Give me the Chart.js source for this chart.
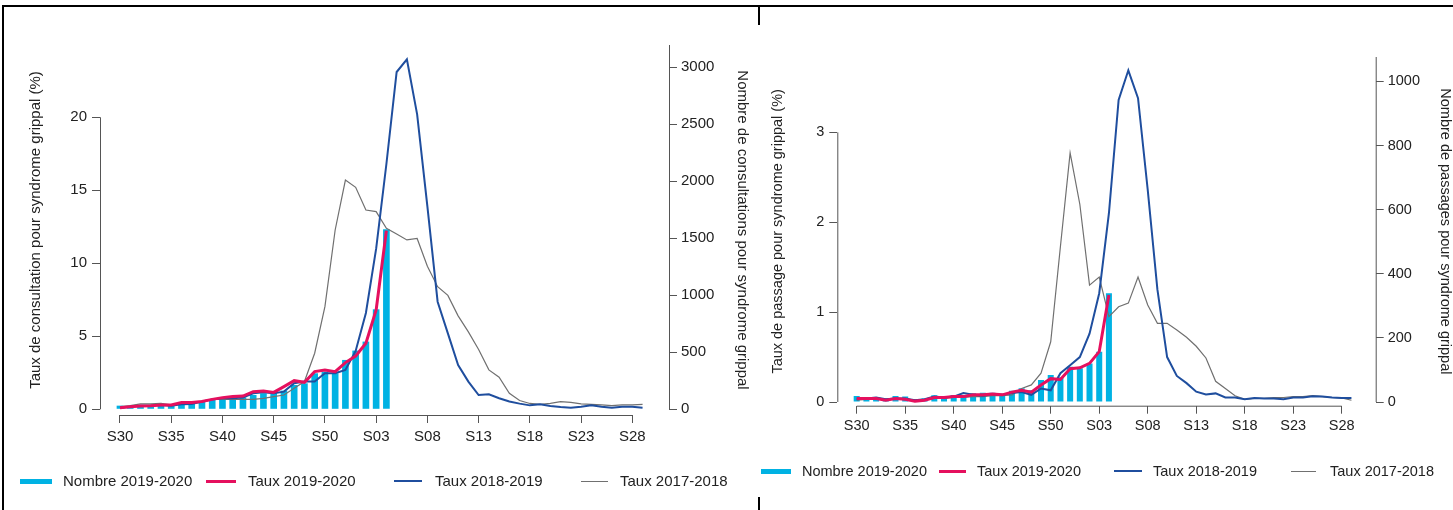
<!DOCTYPE html>
<html lang="fr">
<head>
<meta charset="utf-8">
<title>Syndrome grippal</title>
<script src="https://cdn.jsdelivr.net/npm/chart.js@4.4.1/dist/chart.umd.min.js"></script>
<style>
  html, body { margin: 0; padding: 0; background: #fff; width: 1453px; height: 510px; overflow: hidden; }
  body { position: relative; font-family: "Liberation Sans", Arial, sans-serif; color: #222; }
  .frame-top { position: absolute; left: 2px; top: 5px; width: 1451px; height: 2px; background: #000; }
  .frame-left { position: absolute; left: 2px; top: 5px; width: 2px; height: 505px; background: #000; }
  .sep { position: absolute; left: 758px; width: 2px; background: #000; }
  canvas { position: absolute; top: 0; }
  #chart-left { left: 0; }
  #chart-right { left: 760px; }
  .legend-item { position: absolute; height: 20px; white-space: nowrap; }
  .legend-item .swatch { position: absolute; left: 0; }
  .legend-item .txt { position: absolute; top: 0; line-height: 20px; }
</style>
</head>
<body>
<div class="frame-top"></div>
<div class="frame-left"></div>
<div class="sep" style="top:5px;height:20px"></div>
<div class="sep" style="top:497px;height:13px"></div>
<canvas id="chart-left" width="760" height="510"></canvas>
<canvas id="chart-right" width="700" height="510"></canvas>
<div id="legend-left"></div>
<div id="legend-right"></div>
<script>
// Semaines S30 (2019) -> S29 (2020)
const weekLabels = ['S30', 'S31', 'S32', 'S33', 'S34', 'S35', 'S36', 'S37', 'S38', 'S39', 'S40',
    'S41', 'S42', 'S43', 'S44', 'S45', 'S46', 'S47', 'S48', 'S49', 'S50', 'S51', 'S52',
    'S01', 'S02', 'S03', 'S04', 'S05', 'S06', 'S07', 'S08', 'S09', 'S10', 'S11', 'S12',
    'S13', 'S14', 'S15', 'S16', 'S17', 'S18', 'S19', 'S20', 'S21', 'S22', 'S23', 'S24',
    'S25', 'S26', 'S27', 'S28', 'S29'];
const xTickIdx = [0, 5, 10, 15, 20, 25, 30, 35, 40, 45, 50];
const seriesNames = ['Nombre 2019-2020', 'Taux 2019-2020', 'Taux 2018-2019', 'Taux 2017-2018'];

// Consultations (left panel)
const consNombre1920 = [32, 23, 32, 32, 38, 38, 44, 53, 67, 82, 96, 96, 105, 126, 140, 146, 164,
    213, 228, 316, 330, 316, 433, 515, 594, 877, 1579];
const consTaux1920 = [0.11, 0.18, 0.23, 0.25, 0.30, 0.30, 0.46, 0.46, 0.53, 0.68, 0.80, 0.87, 0.91,
    1.21, 1.26, 1.16, 1.55, 1.96, 1.85, 2.58, 2.69, 2.58, 3.20, 3.65, 4.52, 6.80, 12.24];
const consTaux1819 = [0.11, 0.18, 0.25, 0.25, 0.30, 0.25, 0.34, 0.37, 0.53, 0.68, 0.75, 0.75, 0.80,
    1.10, 1.16, 1.10, 1.21, 1.78, 1.90, 1.90, 2.47, 2.47, 2.69, 4.0, 6.6, 11.0, 16.8, 23.1, 23.97,
    20.2, 13.9, 7.37, 5.2, 3.03, 1.9, 0.98, 1.03, 0.76, 0.53, 0.39, 0.27, 0.34, 0.23, 0.16, 0.11,
    0.18, 0.27, 0.18, 0.11, 0.18, 0.18, 0.11];
const consTaux1718 = [0.18, 0.25, 0.37, 0.37, 0.41, 0.30, 0.41, 0.41, 0.53, 0.68, 0.68, 0.68, 0.68,
    0.68, 0.75, 0.87, 0.98, 1.44, 1.90, 3.84, 7.03, 12.28, 15.7, 15.2, 13.65, 13.54, 12.4, 12.0,
    11.6, 11.7, 9.8, 8.4, 7.8, 6.4, 5.3, 4.1, 2.7, 2.2, 1.1, 0.6, 0.4, 0.34, 0.41, 0.52, 0.48,
    0.37, 0.34, 0.30, 0.25, 0.30, 0.30, 0.34];
const consTauxTicks = [0, 5, 10, 15, 20];
const consNombreTicks = [0, 500, 1000, 1500, 2000, 2500, 3000];

// Passages aux urgences (right panel)
const passNombre1920 = [19, 15, 15, 11, 19, 17, 8, 11, 21, 19, 22, 22, 27, 29, 29, 25, 35, 43, 37,
    69, 84, 77, 110, 105, 120, 157, 339];
const passTaux1920 = [0.04, 0.04, 0.04, 0.02, 0.04, 0.03, 0.01, 0.02, 0.05, 0.05, 0.06, 0.06, 0.08,
    0.08, 0.09, 0.08, 0.11, 0.13, 0.11, 0.19, 0.26, 0.25, 0.37, 0.38, 0.43, 0.56, 1.19];
const passTaux1819 = [0.03, 0.04, 0.05, 0.03, 0.04, 0.04, 0.02, 0.03, 0.06, 0.05, 0.06, 0.10, 0.08,
    0.07, 0.09, 0.08, 0.10, 0.11, 0.08, 0.15, 0.13, 0.32, 0.41, 0.50, 0.76, 1.21, 2.1, 3.36, 3.69,
    3.38, 2.36, 1.25, 0.50, 0.29, 0.21, 0.115, 0.085, 0.096, 0.05, 0.05, 0.03, 0.045, 0.04, 0.04,
    0.03, 0.05, 0.05, 0.065, 0.06, 0.05, 0.045, 0.045];
const passTaux1718 = [0.02, 0.03, 0.03, 0.03, 0.03, 0.03, 0.02, 0.02, 0.04, 0.04, 0.05, 0.05, 0.06,
    0.06, 0.07, 0.07, 0.08, 0.15, 0.19, 0.32, 0.67, 1.73, 2.77, 2.2, 1.30, 1.39, 0.95, 1.06, 1.10,
    1.39, 1.08, 0.875, 0.875, 0.80, 0.72, 0.62, 0.49, 0.23, 0.15, 0.07, 0.03, 0.04, 0.04, 0.05,
    0.05, 0.06, 0.06, 0.07, 0.06, 0.05, 0.045, 0.02];
const passTauxTicks = [0, 1, 2, 3];
const passNombreTicks = [0, 200, 400, 600, 800, 1000];

const COLORS = ['#00b2e3', '#e5105e', '#1f4e9e', '#707070'];
const AXIS_COLOR = '#555';
const TEXT_COLOR = '#222';

Chart.defaults.font.family = '"Liberation Sans", Arial, sans-serif';
Chart.defaults.color = TEXT_COLOR;

// R-like axis lines: from first to last tick (right axis up to the plot top)
const axisLines = {
    id: 'axisLines',
    afterDraw(chart) {
        const ctx = chart.ctx;
        const area = chart.chartArea;
        ctx.save();
        ctx.strokeStyle = AXIS_COLOR;
        ctx.lineWidth = 1;
        Object.values(chart.scales).forEach(scale => {
            const t = scale.ticks;
            if (!t.length) return;
            const a = scale.getPixelForValue(t[0].value);
            let b = scale.getPixelForValue(t[t.length - 1].value);
            if (scale.id === 'y2') b = area.top;
            ctx.beginPath();
            if (scale.isHorizontal()) {
                ctx.moveTo(a, area.bottom + 0.5);
                ctx.lineTo(b, area.bottom + 0.5);
            } else {
                const x = (scale.position === 'left' ? area.left : area.right) + 0.5;
                ctx.moveTo(x, a);
                ctx.lineTo(x, b);
            }
            ctx.stroke();
        });
        ctx.restore();
    }
};

function toPoints(values) {
    return values.map((v, i) => ({ x: i, y: v }));
}

function fixedTicks(values) {
    return scale => { scale.ticks = values.map(v => ({ value: v })); };
}

function makeChart(canvasId, p) {
    const tickFont = { size: p.fontSize };
    const grid = { drawOnChartArea: false, drawTicks: true, tickLength: 8, color: AXIS_COLOR, offset: false };
    return new Chart(document.getElementById(canvasId), {
        data: {
            datasets: [
                { type: 'bar', label: seriesNames[0], data: toPoints(p.nombre), yAxisID: 'y2',
                  backgroundColor: COLORS[0], borderWidth: 0, barPercentage: p.barPct, categoryPercentage: 1, order: 4 },
                { type: 'line', label: seriesNames[1], data: toPoints(p.taux1920), yAxisID: 'y',
                  borderColor: COLORS[1], borderWidth: 3, pointRadius: 0, tension: 0, order: 1 },
                { type: 'line', label: seriesNames[2], data: toPoints(p.taux1819), yAxisID: 'y',
                  borderColor: COLORS[2], borderWidth: 2, pointRadius: 0, tension: 0, order: 2 },
                { type: 'line', label: seriesNames[3], data: toPoints(p.taux1718), yAxisID: 'y',
                  borderColor: COLORS[3], borderWidth: 1.2, pointRadius: 0, tension: 0, order: 3 }
            ]
        },
        options: {
            responsive: false,
            animation: false,
            events: [],
            layout: { padding: p.padding },
            plugins: { legend: { display: false }, tooltip: { enabled: false } },
            scales: {
                x: {
                    type: 'linear', offset: false, min: p.xRange[0], max: p.xRange[1],
                    grid: grid, border: { display: false },
                    afterBuildTicks: fixedTicks(xTickIdx),
                    afterFit: s => { s.height = 50; },
                    ticks: { font: tickFont, padding: p.xPad, maxRotation: 0, autoSkip: false,
                             callback: v => weekLabels[v] }
                },
                y: {
                    position: 'left', min: p.yRange[0], max: p.yRange[1],
                    grid: grid, border: { display: false },
                    afterBuildTicks: fixedTicks(p.tauxTicks),
                    afterFit: s => { s.width = p.yWidth; },
                    ticks: { font: tickFont, padding: 5, callback: v => String(v) },
                    title: { display: true, text: p.yTitle, font: tickFont, color: TEXT_COLOR,
                             padding: { top: p.yTitlePad, bottom: 0 } }
                },
                y2: {
                    position: 'right', min: p.y2Range[0], max: p.y2Range[1],
                    grid: grid, border: { display: false },
                    afterBuildTicks: fixedTicks(p.nombreTicks),
                    afterFit: s => { s.width = p.y2Width; },
                    ticks: { font: tickFont, padding: 4, callback: v => String(v) },
                    title: { display: true, text: p.y2Title, font: tickFont, color: TEXT_COLOR,
                             padding: { top: p.y2TitlePad, bottom: 0 } }
                }
            }
        },
        plugins: [axisLines]
    });
}

function buildLegend(containerId, chart, p) {
    const box = document.getElementById(containerId);
    const heights = [5, 3, 2, 1];
    chart.data.datasets.forEach((ds, i) => {
        const item = document.createElement('div');
        item.className = 'legend-item';
        item.style.left = p.legendX[i] + 'px';
        item.style.top = (p.legendY - 10) + 'px';
        item.style.fontSize = p.fontSize + 'px';
        item.innerHTML = `
            <span class="swatch" style="top:${10 - heights[i] / 2}px;width:${p.legendW[i]}px;height:${heights[i]}px;background:${COLORS[i]}"></span>
            <span class="txt" style="left:${p.legendText[i] - p.legendX[i]}px">${ds.label}</span>
        `;
        box.appendChild(item);
    });
}

const leftPanel = {
    nombre: consNombre1920, taux1920: consTaux1920, taux1819: consTaux1819, taux1718: consTaux1718,
    tauxTicks: consTauxTicks, nombreTicks: consNombreTicks,
    yTitle: 'Taux de consultation pour syndrome grippal (%)',
    y2Title: 'Nombre de consultations pour syndrome grippal',
    fontSize: 15, barPct: 0.65, xPad: 5,
    padding: { left: 0, right: 0, top: 45, bottom: 45 },
    xRange: [-1.95, 53.58], yRange: [-0.39, 24.95], y2Range: [-50, 3195.6],
    yWidth: 100, y2Width: 91, yTitlePad: 27, y2TitlePad: 9.3,
    legendY: 481, legendX: [20, 206, 394, 581], legendW: [32, 30, 28, 27], legendText: [63, 248, 435, 620]
};

const rightPanel = {
    nombre: passNombre1920, taux1920: passTaux1920, taux1819: passTaux1819, taux1718: passTaux1718,
    tauxTicks: passTauxTicks, nombreTicks: passNombreTicks,
    yTitle: 'Taux de passage pour syndrome grippal (%)',
    y2Title: 'Nombre de passages pour syndrome grippal',
    fontSize: 14.5, barPct: 0.62, xPad: 4,
    padding: { left: 0, right: 0, top: 57, bottom: 54.3 },
    xRange: [-2.0, 53.5], yRange: [-0.041, 3.838], y2Range: [-11.5, 1076.4],
    yWidth: 77.3, y2Width: 84.3, yTitlePad: 9.3, y2TitlePad: 6.3,
    legendY: 471, legendX: [761, 939, 1114, 1291], legendW: [30, 27, 28, 25], legendText: [802, 977, 1153, 1330]
};

window.addEventListener('DOMContentLoaded', () => {
    const left = makeChart('chart-left', leftPanel);
    const right = makeChart('chart-right', rightPanel);
    buildLegend('legend-left', left, leftPanel);
    buildLegend('legend-right', right, rightPanel);
});
</script>
</body>
</html>
